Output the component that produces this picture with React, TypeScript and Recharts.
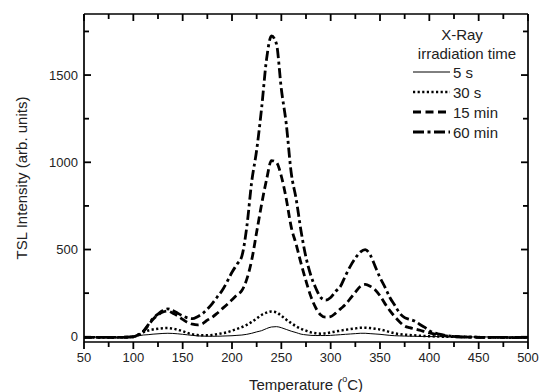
import React from 'react';
import { LineChart, Line, XAxis, YAxis, Legend } from 'recharts';

const temperatures = [
  50, 60, 70, 80, 90,
  100, 105, 110, 115, 120, 125, 130, 135, 140, 145,
  150, 155, 160, 165, 170, 175, 180, 185, 190, 195,
  200, 205, 210, 215, 220, 225, 230, 235, 240, 245,
  250, 255, 260, 265, 270, 275, 280, 285, 290, 295,
  300, 305, 310, 315, 320, 325, 330, 335, 340, 345,
  350, 355, 360, 365, 370, 375, 380, 385, 390, 395,
  400,
  410, 420, 430, 440, 450, 460, 470, 480, 490, 500,
];

const intensity5s = [
  -2, -2, -3, -3, -3,
  0, 5, 10, 12, 15, 17, 19, 20, 19, 17,
  14, 11, 8, 5, 4, 3, 3, 3, 4, 5,
  6, 8, 10, 14, 20, 28, 35, 47, 56, 58,
  52, 42, 32, 24, 15, 11, 8, 7, 7, 7,
  8, 10, 12, 14, 16, 18, 20, 20, 18, 16,
  14, 11, 8, 6, 5, 4, 3, 3, 2, 2,
  1,
  1, 0, 0, -1, -1, -1, -2, -2, -2, -2,
];

const intensity30s = [
  -3, -3, -4, -4, -3,
  0, 10, 25, 36, 42, 46, 49, 50, 47, 40,
  32, 22, 14, 10, 8, 8, 10, 15, 20, 26,
  35, 45, 55, 68, 85, 105, 125, 138, 145, 140,
  120, 98, 78, 60, 46, 35, 25, 20, 18, 20,
  25, 30, 35, 40, 44, 48, 52, 52, 50, 46,
  42, 35, 27, 20, 15, 12, 10, 8, 6, 4,
  3,
  1, 0, -1, -2, -2, -3, -3, -4, -4, -4,
];

const intensity15min = [
  -3, -4, -4, -4, -3,
  0, 12, 30, 65, 100, 125, 142, 148, 135, 120,
  100, 82, 72, 68, 75, 95, 112, 135, 160, 185,
  212, 240, 265, 330, 440, 600, 760, 900, 1010, 1000,
  920, 790, 630, 530, 420, 320, 230, 165, 125, 112,
  115, 135, 160, 185, 220, 255, 288, 300, 290, 270,
  235, 190, 150, 115, 85, 62, 52, 45, 38, 30,
  22,
  10, 3, 0, -2, -3, -4, -3, -4, -5, -4,
];

const intensity60min = [
  -3, -3, -4, -4, -3,
  0, 12, 30, 68, 105, 130, 150, 160, 150, 135,
  120, 108, 104, 115, 132, 158, 190, 228, 265, 315,
  370, 415, 462, 630, 890, 1070, 1310, 1590, 1725, 1680,
  1420, 1220, 940, 790, 605, 455, 350, 278, 225, 210,
  225, 260, 290, 350, 405, 450, 485, 500, 470, 405,
  340, 285, 225, 180, 135, 110, 100, 90, 72, 55,
  35,
  15, 5, 0, -2, -3, -5, -3, -5, -4, -5,
];

const seriesNames = ['5 s', '30 s', '15 min', '60 min'];
const xTicks = [50, 75, 100, 125, 150, 175, 200, 225, 250, 275, 300, 325, 350, 375, 400, 425, 450, 475, 500];
const yTicks = [0, 250, 500, 750, 1000, 1250, 1500, 1750];
const legendTitle = ['X-Ray', 'irradiation time'];

const data = temperatures.map((t, i) => ({
  t,
  s5: intensity5s[i],
  s30: intensity30s[i],
  m15: intensity15min[i],
  m60: intensity60min[i],
}));

const series = [
  { key: 's5', name: seriesNames[0], width: 1, dash: undefined as string | undefined, legendDash: undefined as string | undefined },
  { key: 's30', name: seriesNames[1], width: 2.5, dash: '2.2 2.4', legendDash: '2.2 2.4' },
  { key: 'm15', name: seriesNames[2], width: 2.8, dash: '8 4', legendDash: '8 4.5' },
  { key: 'm60', name: seriesNames[3], width: 2.8, dash: '10 3.5 3 3.5', legendDash: '11 3.5 3 3.5' },
];

const FONT = '"Liberation Sans", Arial, Helvetica, sans-serif';
const TEXT = '#222';
const TICK_W = 1.8;
const MAJOR = 7;
const MINOR = 5;

const BottomTick = (props: any) => {
  const { x, y, payload } = props;
  const major = payload.value % 50 === 0;
  return (
    <g>
      <path d={`M${x},${y}V${y + (major ? MAJOR : MINOR)}`} stroke="#000" strokeWidth={TICK_W} fill="none" />
      {major && (
        <text x={x} y={y + 15} textAnchor="middle" dominantBaseline="central" fontSize={13} fontFamily={FONT} fill={TEXT}>
          {payload.value}
        </text>
      )}
    </g>
  );
};

const TopTick = (props: any) => {
  const { x, y, payload } = props;
  const major = payload.value % 50 === 0;
  return <path d={`M${x},${y}V${y + (major ? MAJOR : MINOR)}`} stroke="#000" strokeWidth={TICK_W} fill="none" />;
};

const LeftTick = (props: any) => {
  const { x, y, payload } = props;
  const major = payload.value % 500 === 0;
  return (
    <g>
      <path d={`M${x},${y}H${x + (major ? MAJOR : MINOR)}`} stroke="#000" strokeWidth={TICK_W} fill="none" />
      {major && (
        <text x={x - 6} y={y} textAnchor="end" dominantBaseline="central" fontSize={13} fontFamily={FONT} fill={TEXT}>
          {payload.value}
        </text>
      )}
    </g>
  );
};

const RightTick = (props: any) => {
  const { x, y, payload } = props;
  const major = payload.value % 500 === 0;
  return <path d={`M${x},${y}H${x - (major ? MAJOR : MINOR)}`} stroke="#000" strokeWidth={TICK_W} fill="none" />;
};

const LegendBox = () => (
  <svg width={130} height={130} style={{ display: 'block' }}>
    <text x={57} y={20} textAnchor="middle" dominantBaseline="central" fontSize={15} fontFamily={FONT} fill={TEXT}>
      {legendTitle[0]}
    </text>
    <text x={62} y={39} textAnchor="middle" dominantBaseline="central" fontSize={15} fontFamily={FONT} fill={TEXT}>
      {legendTitle[1]}
    </text>
    {series.map((s, i) => (
      <g key={s.key}>
        <line x1={8} x2={45} y1={58 + i * 20} y2={58 + i * 20} stroke="#000" strokeWidth={s.width} strokeDasharray={s.legendDash} />
        <text x={48} y={58 + i * 20} dominantBaseline="central" fontSize={15} fontFamily={FONT} fill={TEXT}>
          {s.name}
        </text>
      </g>
    ))}
  </svg>
);

const XTitle = () => (
  <text x={306} y={384} textAnchor="middle" dominantBaseline="central" fontSize={15} fontFamily={FONT} fill={TEXT}>
    <tspan>Temperature (</tspan>
    <tspan fontSize={9} dy={-5}>o</tspan>
    <tspan dy={5}>C)</tspan>
  </text>
);

const YTitle = () => (
  <text
    x={21}
    y={178}
    transform="rotate(-90 21 178)"
    textAnchor="middle"
    dominantBaseline="central"
    fontSize={15}
    fontFamily={FONT}
    fill={TEXT}
  >
    TSL Intensity (arb. units)
  </text>
);

const axisLineStyle = { stroke: '#000', strokeWidth: 1.7 };

export default function App() {
  return (
    <div style={{ position: 'absolute', left: 0, top: 0, width: 540, height: 392, background: '#fff' }}>
      <LineChart width={540} height={392} data={data} margin={{ top: 13, right: 11, bottom: 20, left: 40 }}>
        <XAxis
          xAxisId="bottom"
          dataKey="t"
          type="number"
          domain={[50, 500]}
          ticks={xTicks}
          interval={0}
          allowDataOverflow
          height={30}
          tickSize={0}
          tickMargin={0}
          tickLine={false}
          axisLine={axisLineStyle}
          tick={<BottomTick />}
          label={<XTitle />}
        />
        <XAxis
          xAxisId="top"
          orientation="top"
          dataKey="t"
          type="number"
          domain={[50, 500]}
          ticks={xTicks}
          interval={0}
          allowDataOverflow
          height={1}
          tickSize={0}
          tickMargin={0}
          tickLine={false}
          axisLine={axisLineStyle}
          tick={<TopTick />}
        />
        <YAxis
          yAxisId="left"
          type="number"
          domain={[-30, 1850]}
          ticks={yTicks}
          interval={0}
          allowDataOverflow
          width={44}
          tickSize={0}
          tickMargin={0}
          tickLine={false}
          axisLine={axisLineStyle}
          tick={<LeftTick />}
          label={<YTitle />}
        />
        <YAxis
          yAxisId="right"
          orientation="right"
          type="number"
          domain={[-30, 1850]}
          ticks={yTicks}
          interval={0}
          allowDataOverflow
          width={1}
          tickSize={0}
          tickMargin={0}
          tickLine={false}
          axisLine={axisLineStyle}
          tick={<RightTick />}
        />
        <Legend
          layout="vertical"
          align="center"
          verticalAlign="middle"
          width={130}
          height={130}
          wrapperStyle={{ left: 405, top: 14, width: 130, height: 130 }}
          content={<LegendBox />}
        />
        <Line
          xAxisId="top"
          yAxisId="right"
          dataKey="m60"
          stroke="none"
          strokeWidth={0}
          dot={false}
          activeDot={false}
          legendType="none"
          isAnimationActive={false}
        />
        {series.map((s) => (
          <Line
            key={s.key}
            xAxisId="bottom"
            yAxisId="left"
            dataKey={s.key}
            name={s.name}
            type="monotone"
            stroke="#000"
            strokeWidth={s.width}
            strokeDasharray={s.dash}
            dot={false}
            activeDot={false}
            isAnimationActive={false}
          />
        ))}
      </LineChart>
    </div>
  );
}
